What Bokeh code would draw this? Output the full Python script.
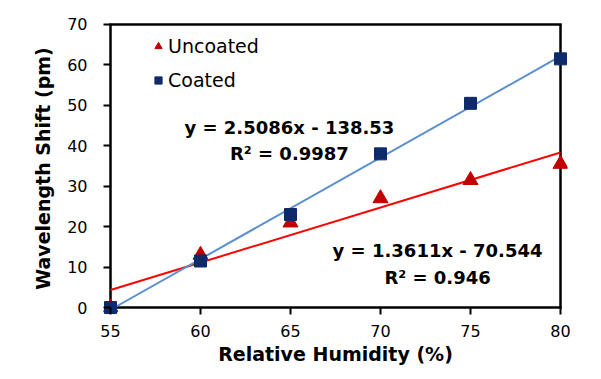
from bokeh.plotting import figure
from bokeh.models import (ColumnDataSource, Range1d, Label, Legend,
                          LegendItem, FixedTicker)
from bokeh.embed import file_html
from bokeh.resources import INLINE
import numpy as np

# ---- data ----
humidity = [55, 60, 65, 70, 75, 80]
uncoated = [0, 13.0, 21.0, 27.0, 31.5, 35.5]
coated = [0, 11.5, 23.0, 38.0, 50.5, 61.5]

# trendline equations (as printed on the chart)
uncoated_fit = (1.3611, -70.544)
coated_fit = (2.5086, -138.53)
uncoated_eq = ["y = 1.3611x - 70.544", "R² = 0.946"]
coated_eq = ["y = 2.5086x - 138.53", "R² = 0.9987"]

x_ticks = [55, 60, 65, 70, 75, 80]
y_ticks = [0, 10, 20, 30, 40, 50, 60, 70]
x_min, x_max = 55.0, 80.0
y_min, y_max = 0.0, 70.0

FONT = "DejaVu Sans"
RED_LINE = "#FF0000"
RED_MARK = "#C00000"
BLUE_LINE = "#5B8FCF"
BLUE_MARK = "#0F2A6B"

PX_X = 18.0     # pixels per x unit
PX_Y = 4.043    # pixels per y unit

p = figure(width=590, height=370, output_backend="svg", toolbar_location=None,
           x_range=Range1d(x_min - 7 / PX_X, x_max + 7 / PX_X),
           y_range=Range1d(y_min - 7 / PX_Y, y_max + 2 / PX_Y),
           min_border_left=103, min_border_right=23, min_border_top=22,
           min_border_bottom=56)
p.outline_line_color = None
p.grid.visible = False

for ax in (p.xaxis[0], p.yaxis[0]):
    ax.axis_line_color = None
    ax.major_tick_out = 0
    ax.major_tick_in = 7
    ax.major_tick_line_width = 2
    ax.major_tick_line_color = "black"
    ax.minor_tick_line_color = None
    ax.major_label_text_font = FONT
    ax.major_label_text_font_size = "16px"
    ax.major_label_text_color = "black"
    ax.axis_label_text_font = FONT
    ax.axis_label_text_font_size = "19px"
    ax.axis_label_text_font_style = "bold"
    ax.axis_label_text_color = "black"

p.xaxis.ticker = FixedTicker(ticks=x_ticks)
p.yaxis.ticker = FixedTicker(ticks=y_ticks)
p.xaxis.axis_label = "Relative Humidity (%)"
p.yaxis.axis_label = "Wavelength Shift (pm)"
p.xaxis.major_label_standoff = 10
p.xaxis.axis_label_standoff = 3
p.yaxis.major_label_standoff = 16
p.yaxis.axis_label_standoff = 10

# frame (axes box) along the axis limits
half_w_x = 1.25 / PX_X
half_w_y = 1.25 / PX_Y
for xv in (x_min, x_max):
    p.line(np.array([xv, xv]), np.array([y_min, y_max]), line_color="black", line_width=2.5)
# horizontal edges as thin filled bars
p.quad(left=[x_min - half_w_x, x_min - half_w_x], right=[x_max + half_w_x, x_max + half_w_x],
       bottom=[y_min - half_w_y, y_max - half_w_y], top=[y_min + half_w_y, y_max + half_w_y],
       fill_color="black", line_color=None)

# trendlines
xs_fit = np.array([x_min, x_max], dtype=float)
p.line(xs_fit, uncoated_fit[0] * xs_fit + uncoated_fit[1], line_color=RED_LINE, line_width=2)
p.line(xs_fit, coated_fit[0] * xs_fit + coated_fit[1], line_color=BLUE_LINE, line_width=2)

src = ColumnDataSource(dict(x=humidity, u=uncoated, c=coated))
r_u = p.scatter("x", "u", source=src, marker="triangle", size=15,
                fill_color=RED_MARK, line_color=RED_MARK)
r_c = p.scatter("x", "c", source=src, marker="square", size=12,
                fill_color=BLUE_MARK, line_color=BLUE_MARK)

legend = Legend(items=[LegendItem(label="Uncoated", renderers=[r_u]),
                       LegendItem(label="Coated", renderers=[r_c])],
                location=(46, 223), orientation="vertical",
                label_text_font=FONT, label_text_font_size="19px",
                label_text_color="black", glyph_width=18, glyph_height=20,
                label_height=20, label_standoff=1, spacing=12, padding=0,
                margin=0, border_line_color=None, background_fill_alpha=0)
p.add_layout(legend)

def eq_label(x, y, text):
    p.add_layout(Label(x=x, y=y, text=text, text_font=FONT, text_font_size="18px",
                       text_font_style="bold", text_align="center",
                       text_baseline="middle", text_color="black"))

eq_label(64.94, 44.5, coated_eq[0])
eq_label(64.94, 38.1, coated_eq[1])
eq_label(73.17, 14.1, uncoated_eq[0])
eq_label(73.17, 7.4, uncoated_eq[1])

open("out.html", "w").write(file_html(p, INLINE))
